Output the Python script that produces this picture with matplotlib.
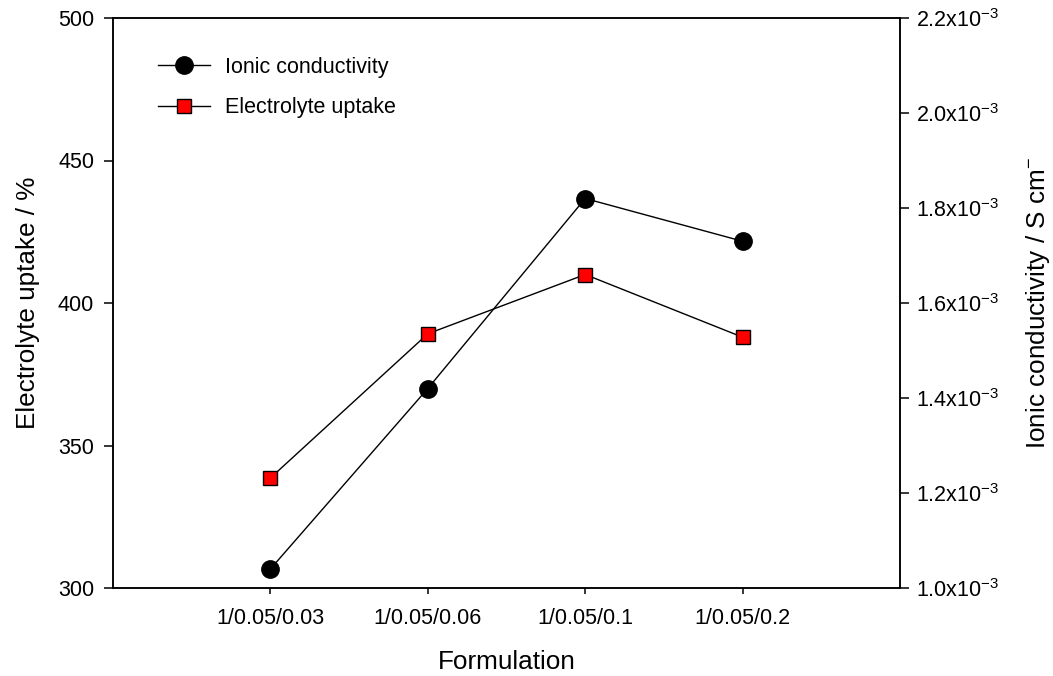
import matplotlib
matplotlib.use('Agg')
import matplotlib.pyplot as plt
import numpy as np

# 字体设置
plt.rcParams['font.family'] = ['Liberation Sans', 'DejaVu Sans']
plt.rcParams['mathtext.default'] = 'regular'
plt.rcParams['font.size'] = 15.5

# 数据
formulations = ['1/0.05/0.03', '1/0.05/0.06', '1/0.05/0.1', '1/0.05/0.2']
uptake = [338.6, 389.2, 410.0, 388.0]
conductivity = [1.04e-3, 1.42e-3, 1.82e-3, 1.73e-3]
left_ticks = [300, 350, 400, 450, 500]
right_ticks = [1.0e-3, 1.2e-3, 1.4e-3, 1.6e-3, 1.8e-3, 2.0e-3, 2.2e-3]

x = np.arange(1, len(formulations) + 1)

fig = plt.figure(figsize=(10.53, 6.76), dpi=100, facecolor='w')
ax = fig.add_axes([113 / 1053, 88 / 676, 787 / 1053, 570 / 676])
ax2 = ax.twinx()

l2, = ax.plot(x, uptake, color='black', lw=1.0, marker='s', ms=10,
              mfc='#ff0000', mec='black', mew=1.0, zorder=3)
l1, = ax2.plot(x, conductivity, color='black', lw=1.0, marker='o', ms=12.5,
               mfc='black', mec='black', zorder=3)

ax.set_xlim(0, 5)
ax.set_ylim(300, 500)
ax2.set_ylim(1.0e-3, 2.2e-3)
ax.set_xticks(x)
ax.set_xticklabels(formulations)
ax.set_yticks(left_ticks)
ax.set_yticklabels([str(t) for t in left_ticks])
ax2.set_yticks(right_ticks)
ax2.set_yticklabels(['%.1fx10$^{-3}$' % (t * 1e3) for t in right_ticks])

for a in (ax, ax2):
    for s in a.spines.values():
        s.set_linewidth(1.1)
ax.tick_params(axis='y', direction='out', length=6.5, width=1.1, pad=7)
ax.tick_params(axis='x', direction='out', length=4.5, width=1.1, pad=10)
ax2.tick_params(axis='y', direction='out', length=6.5, width=1.1, pad=5)

ax.set_xlabel('Formulation', fontsize=18.8, labelpad=15)
ax.set_ylabel('Electrolyte uptake / %', fontsize=18.8, labelpad=13)
ax2.set_ylabel('Ionic conductivity / S cm$^{-}$', fontsize=18.8, labelpad=18)

ax2.legend([l1, l2], ['Ionic conductivity', 'Electrolyte uptake'],
           loc='upper left', bbox_to_anchor=(158 / 1053, 1 - 57 / 676),
           bbox_transform=fig.transFigure, frameon=False, borderpad=0,
           borderaxespad=0, handlelength=2.4, handletextpad=0.7,
           labelspacing=0.9)

fig.savefig('out.png', dpi=100)
